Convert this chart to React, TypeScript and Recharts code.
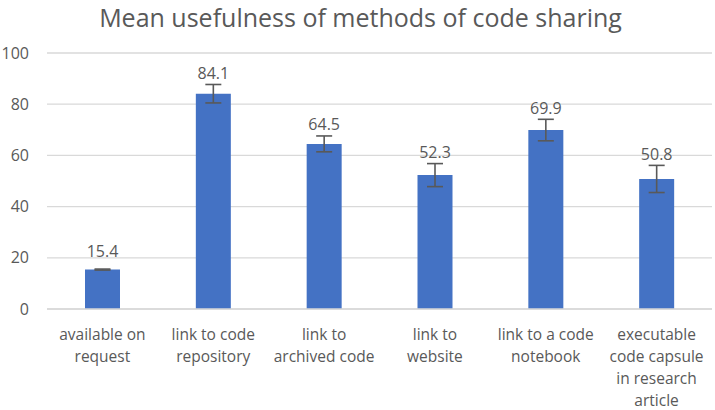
import { BarChart, Bar, XAxis, YAxis, CartesianGrid, ErrorBar, LabelList } from 'recharts'

// ─── data ────────────────────────────────────────────────────────────────

const categories = [
  'available on\nrequest',
  'link to code\nrepository',
  'link to\narchived code',
  'link to\nwebsite',
  'link to a code\nnotebook',
  'executable\ncode capsule\nin research\narticle',
]
const means = [15.4, 84.1, 64.5, 52.3, 69.9, 50.8]
const errors = [0.2, 3.6, 3.1, 4.5, 4.2, 5.3]
const yTicks = [0, 20, 40, 60, 80, 100]

const data = categories.map((name, i) => ({ name, mean: means[i], err: errors[i] }))

const FONT = '"Open Sans", "Noto Sans", sans-serif'
const TEXT = '#595959'

// ─── custom ticks / labels ─────────────────────────────────────────────────

function CategoryTick({ x, y, payload }: { x?: number; y?: number; payload?: { value: string } }) {
  const lines = String(payload?.value ?? '').split('\n')
  return (
    <text x={x} y={y} textAnchor="middle" fill={TEXT} fontSize={15.5} fontFamily={FONT}>
      {lines.map((l, i) => (
        <tspan key={i} x={x} dy={i === 0 ? 22.5 : 22}>
          {l}
        </tspan>
      ))}
    </text>
  )
}

function ValueLabel(props: any) {
  const { x, y, width, height, value, index } = props
  // keep the label clear of the error bar
  const pxPerUnit = height / value
  const errTop = y - errors[index] * pxPerUnit
  const cy = Math.min(y - 18.5, errTop - 11)
  return (
    <text
      x={x + width / 2}
      y={cy}
      dy={5.5}
      textAnchor="middle"
      fill={TEXT}
      fontSize={16}
      fontFamily={FONT}
    >
      {value}
    </text>
  )
}

export default function App() {
  return (
    <div style={{ position: 'absolute', left: 0, top: 0, width: 715, height: 410, background: '#fff' }}>
      <div
        style={{
          position: 'absolute',
          left: 0,
          top: 0,
          width: 721,
          textAlign: 'center',
          fontFamily: FONT,
          fontSize: 25,
          color: TEXT,
          lineHeight: 'normal',
        }}
      >
        Mean usefulness of methods of code sharing
      </div>
      <BarChart
        width={715}
        height={410}
        data={data}
        margin={{ top: 53, right: 3, left: 0, bottom: 1 }}
      >
        <CartesianGrid vertical={false} stroke="#D9D9D9" strokeWidth={1.3} />
        <XAxis
          dataKey="name"
          interval={0}
          height={100}
          tickLine={false}
          axisLine={{ stroke: '#D9D9D9', strokeWidth: 1.3 }}
          tick={<CategoryTick />}
        />
        <YAxis
          domain={[0, 100]}
          ticks={yTicks}
          width={47}
          tickLine={false}
          axisLine={false}
          tickMargin={12}
          tick={{ fill: TEXT, fontSize: 16, fontFamily: FONT }}
        />
        <Bar dataKey="mean" fill="#4472C4" barSize={35} isAnimationActive={false}>
          <ErrorBar dataKey="err" width={8} stroke="#595959" strokeWidth={1.6} direction="y" />
          <LabelList dataKey="mean" content={<ValueLabel />} />
        </Bar>
      </BarChart>
    </div>
  )
}
